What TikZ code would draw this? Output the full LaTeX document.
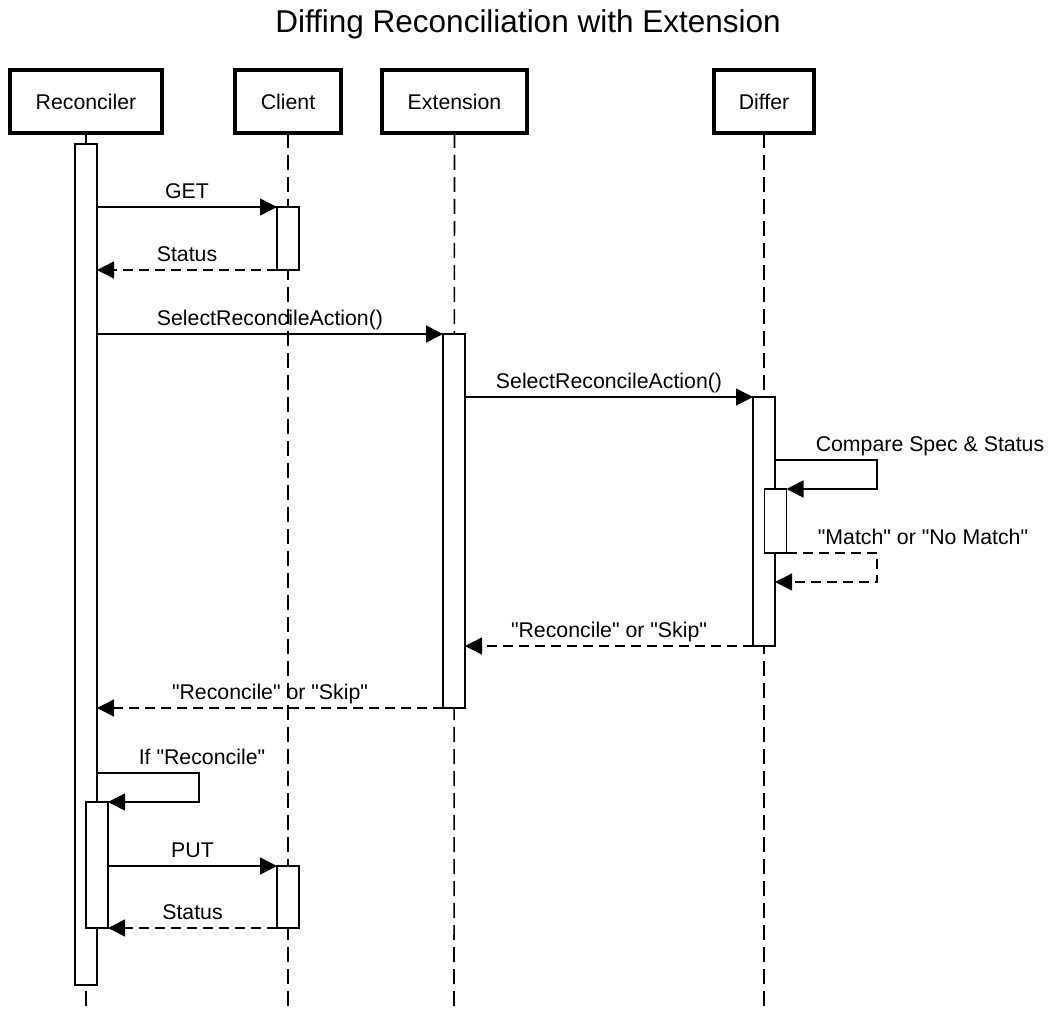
\documentclass[tikz,border=0pt]{standalone}
\usepackage{fontspec}
\setmainfont{Liberation Sans}[Ligatures=TeXOff]
\usetikzlibrary{arrows.meta}
\newcommand{\qq}{\symbol{34}}
\begin{document}
\begin{tikzpicture}[x=1pt,y=-1pt,
  actor/.style={draw, line width=3.2pt, fill=white, inner sep=0pt, outer sep=0pt, minimum height=63pt},
  act/.style={draw, line width=1.5pt, fill=white, inner sep=0pt, outer sep=0pt, minimum width=22pt},
  life/.style={line width=1.6pt, dash pattern=on 15pt off 7pt},
  msg/.style={line width=1.5pt, -{Triangle[length=17pt,width=17pt]}},
  ret/.style={msg, dash pattern=on 10pt off 6pt},
  lbl/.style={font=\fontsize{21.3}{25}\selectfont, anchor=base, inner sep=0pt},
  ttl/.style={font=\fontsize{31.5}{36}\selectfont, anchor=base, inner sep=0pt}
]
\useasboundingbox (0,0) rectangle (1056,1008);
\node[ttl] (title) at (528,33) {Diffing Reconciliation with Extension};

% actors
\node[actor, minimum width=152pt] (rec) at (86,101.5) {};
\node[actor, minimum width=106pt] (cli) at (288,101.5) {};
\node[actor, minimum width=145pt] (ext) at (454.5,101.5) {};
\node[actor, minimum width=100pt] (dif) at (764,101.5) {};
\node[lbl] (recl) at (86,110) {Reconciler};
\node[lbl] (clil) at (288,110) {Client};
\node[lbl] (extl) at (454.5,110) {Extension};
\node[lbl] (difl) at (764,110) {Differ};

% lifelines
\coordinate (recb) at (86,1008);
\coordinate (clib) at (288,1008);
\coordinate (extb) at (454,1008);
\coordinate (difb) at (764,1008);
\draw[life] (rec.south) -- (recb);
\draw[life] (cli.south) -- (clib);
\draw[life] (ext.south) -- (extb);
\draw[life] (dif.south) -- (difb);

% activations
\node[act, minimum height=841pt, anchor=north] (r1) at (86,144) {};
\node[act, minimum height=63pt, anchor=north] (c1) at (288,207) {};
\node[act, minimum height=374pt, anchor=north] (e1) at (454,334) {};
\node[act, minimum height=249pt, anchor=north] (d1) at (764,397) {};
\node[act, minimum height=64pt, anchor=north] (d2) at (775.5,489) {};
\node[act, minimum height=126pt, anchor=north] (r2) at (97,802) {};
\node[act, minimum height=62pt, anchor=north] (c2) at (288,866) {};

% helper coordinates for self calls
\coordinate (s1) at (877,460);
\coordinate (s2) at (877,582);
\coordinate (s3) at (199,773);

% messages
\draw[msg] (r1.east |- c1.north) -- (c1.north west);
\node[lbl] (getl) at (187,198.5) {GET};
\draw[ret] (c1.south west) -- (r1.east |- c1.south);
\node[lbl] (stl) at (187,261.5) {Status};
\draw[msg] (r1.east |- e1.north) -- (e1.north west);
\node[lbl] (sel1) at (270,325.5) {SelectReconcileAction()};
\draw[msg] (e1.east |- d1.north) -- (d1.north west);
\node[lbl] (sel2) at (609,388.5) {SelectReconcileAction()};
\draw[msg] (d1.east |- s1) -- (s1) |- (d2.north east);
\node[lbl] (cmpl) at (930,451) {Compare Spec \& Status};
\draw[ret] (d2.south east) -- (s2 |- d2.south) -- (s2) -- (d1.east |- s2);
\node[lbl] (mtl) at (923,544.5) {\qq Match\qq{} or \qq No Match\qq};
\draw[ret] (d1.south west) -- (e1.east |- d1.south);
\node[lbl] (rs1) at (609,637.5) {\qq Reconcile\qq{} or \qq Skip\qq};
\draw[ret] (e1.south west) -- (r1.east |- e1.south);
\node[lbl] (rs2) at (270,699.5) {\qq Reconcile\qq{} or \qq Skip\qq};
\draw[msg] (r1.east |- s3) -- (s3) |- (r2.north east);
\node[lbl] (ifl) at (202,764.5) {If \qq Reconcile\qq};
\draw[msg] (r2.east |- c2.north) -- (c2.north west);
\node[lbl] (putl) at (192.5,857.5) {PUT};
\draw[ret] (c2.south west) -- (r2.east |- c2.south);
\node[lbl] (st2l) at (192.5,919.5) {Status};
\end{tikzpicture}
\end{document}
